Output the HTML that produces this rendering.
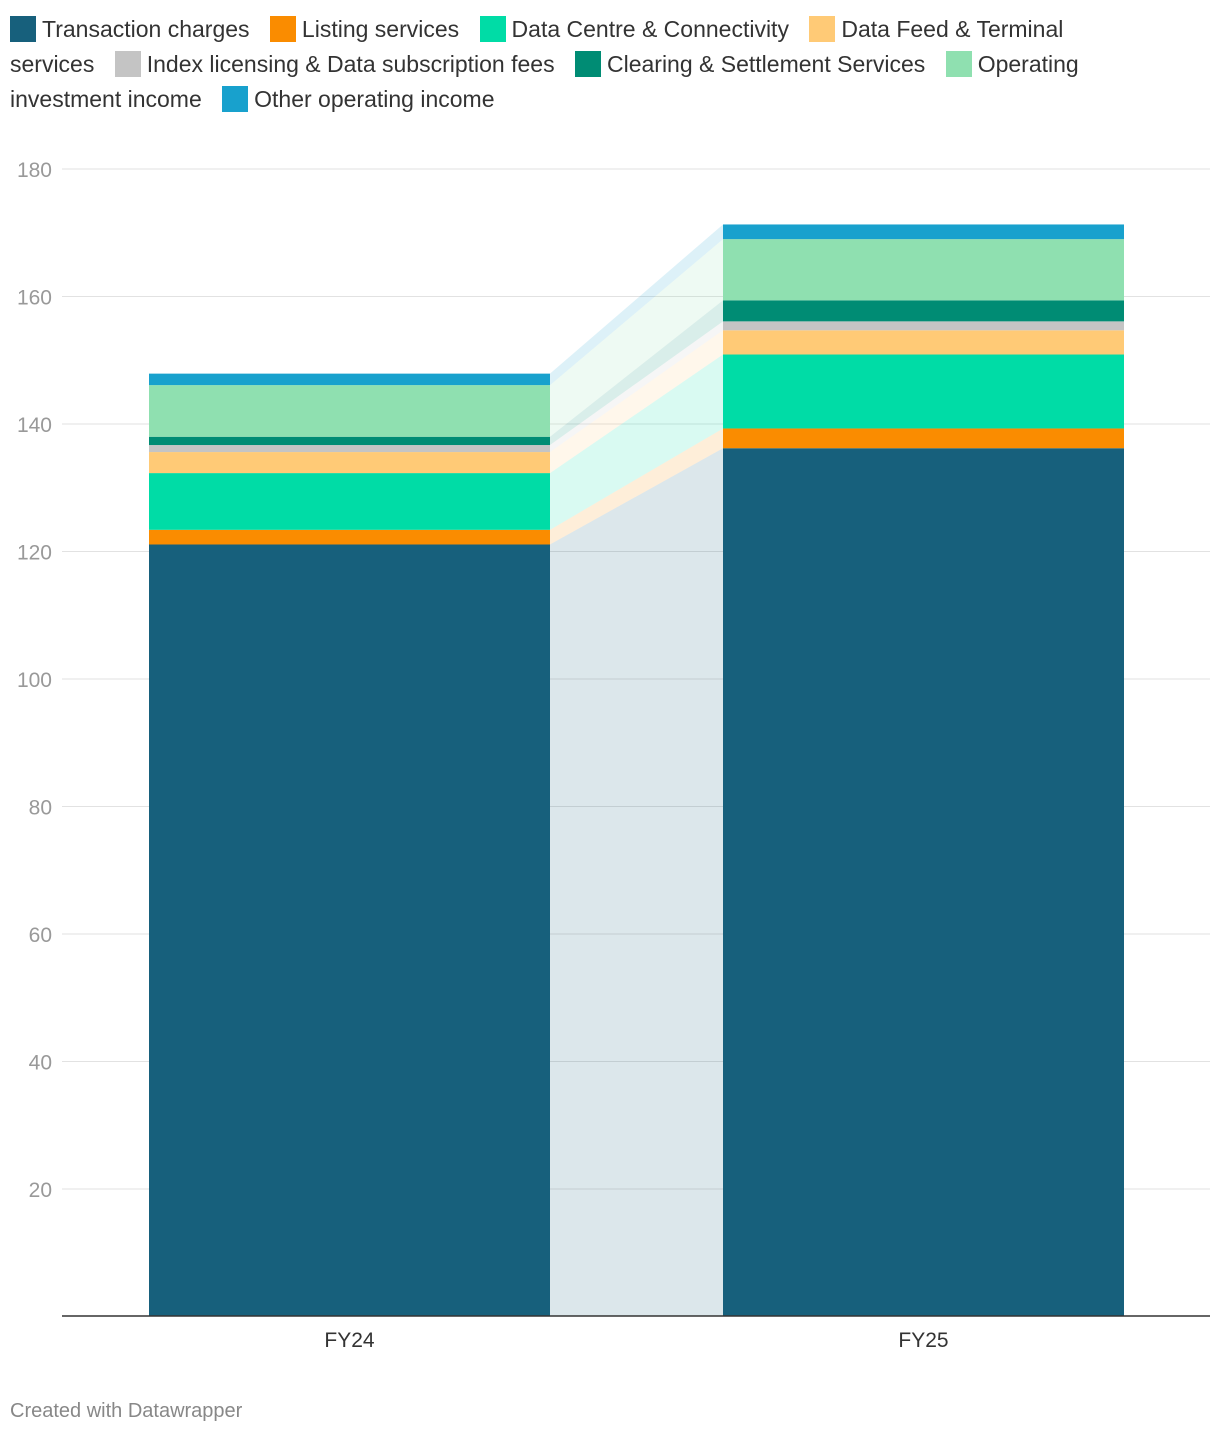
<!DOCTYPE html>
<html><head><meta charset="utf-8"><style>
body{margin:0;width:1220px;height:1438px;background:#fff;font-family:"Liberation Sans",sans-serif;position:relative;overflow:hidden}
#legend{position:absolute;left:10px;top:12px;width:1150px;font-size:23px;line-height:35px;color:#333}
.li{white-space:nowrap}
.sw{display:inline-block;width:26px;height:26px;vertical-align:-5px;margin-right:6px}
#foot{position:absolute;left:10px;top:1400px;font-size:20px;color:#888}
</style></head><body>
<div id="legend"></div>
<svg id="chart" width="1220" height="1438" style="position:absolute;left:0;top:0"></svg>
<div id="foot">Created with Datawrapper</div>
<script>
const categories=["FY24","FY25"];
const seriesNames=["Transaction charges","Listing services","Data Centre & Connectivity","Data Feed & Terminal services","Index licensing & Data subscription fees","Clearing & Settlement Services","Operating investment income","Other operating income"];
const fy24=[121.1,2.3,8.9,3.3,1.1,1.3,8.1,1.8];
const fy25=[136.2,3.1,11.6,3.8,1.4,3.3,9.6,2.3];
const ticks=[20,40,60,80,100,120,140,160,180];
const colors=["#17607c","#fa8c00","#00dca6","#ffca76","#c4c4c4","#008c74","#8fe0b0","#18a1cd"];
const values=[fy24,fy25];
const NS="http://www.w3.org/2000/svg";
const svg=document.getElementById('chart');
const y0=1316.5,pxPer=6.375;
const y=v=>y0-v*pxPer;
const barX=[149,723],barW=401;
function mk(t,a){const e=document.createElementNS(NS,t);for(const k in a)e.setAttribute(k,a[k]);svg.appendChild(e);return e;}
ticks.forEach(t=>{
 const l=mk('line',{x1:62,x2:1210,y1:y(t),y2:y(t),stroke:'#e2e2e2','stroke-width':1});
 
 
 const tx=mk('text',{x:52,y:y(t)+8,'text-anchor':'end','font-size':21,fill:'#999'});
 tx.textContent=t;
 
 
});
// connectors
let c0=0,c1=0;
seriesNames.forEach((n,i)=>{
 const a0=c0,b0=c0+fy24[i],a1=c1,b1=c1+fy25[i];c0=b0;c1=b1;
 const p=mk('polygon',{points:`${barX[0]+barW},${y(a0)} ${barX[0]+barW},${y(b0)} ${barX[1]},${y(b1)} ${barX[1]},${y(a1)}`,fill:colors[i],'fill-opacity':0.15});
 
 
});
values.forEach((vals,ci)=>{
 let cum=0;
 vals.forEach((v,i)=>{
  const r=mk('rect',{x:barX[ci],y:y(cum+v),width:barW,height:v*pxPer,fill:colors[i]});
  
  
  cum+=v;
 });
 const t=mk('text',{x:barX[ci]+barW/2,y:1347,'text-anchor':'middle','font-size':21,fill:'#333'});
 t.textContent=categories[ci];
 
 
});
const ax=mk('line',{x1:62,x2:1210,y1:1316,y2:1316,stroke:'#333','stroke-width':1.5});


const lg=document.getElementById('legend');
seriesNames.forEach((n,i)=>{
 const s=document.createElement('span');
 
 
 const parts=n.split(' ');
 const first=(i==3||i==6)?parts[0]+' '+(i==3?parts[1]+' '+parts[2]+' '+parts[3]:''):null;
 s.innerHTML=`<span class="sw" style="background:${colors[i]}"></span>${n}`;
 s.style.marginRight='14px';
 lg.appendChild(s);
 lg.appendChild(document.createTextNode(' '));
});
</script>
</body></html>
